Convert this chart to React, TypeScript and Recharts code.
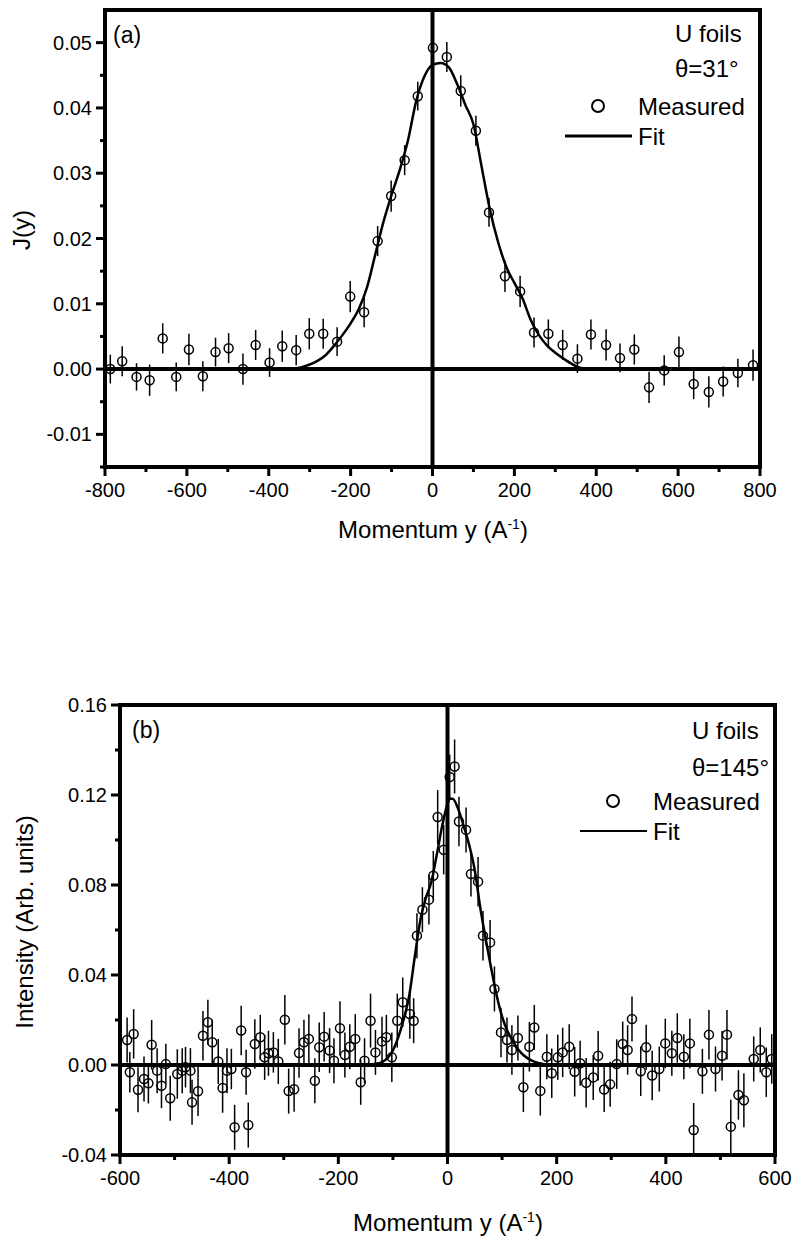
import React from 'react';
import {
  ComposedChart,
  XAxis,
  YAxis,
  Scatter,
  Line,
  ErrorBar,
  ReferenceLine,
  ReferenceArea,
} from 'recharts';

const FONT = '"Liberation Sans", Arial, Helvetica, sans-serif';

// ---------------- Panel (a) ----------------
const xMajorA = [-800, -600, -400, -200, 0, 200, 400, 600, 800];
const xMinorA = [-700, -500, -300, -100, 100, 300, 500, 700];
const yMajorA = [-0.01, 0, 0.01, 0.02, 0.03, 0.04, 0.05];
const yMinorA = [-0.015, -0.005, 0.005, 0.015, 0.025, 0.035, 0.045];

const measuredXA = [
  -787, -758, -723, -691, -659, -626, -595, -561, -530, -498,
  -463, -432, -398, -367, -333, -301, -267, -233, -201, -167,
  -134, -101, -68, -36, 1, 35, 69, 106, 138, 177,
  214, 248, 283, 318, 354, 387, 424, 458, 493, 529,
  566, 602, 638, 675, 710, 746, 783,
];
const measuredYA = [
  0.0, 0.0012, -0.0012, -0.0017, 0.0047, -0.0012, 0.003, -0.0011, 0.0026, 0.0032,
  0.0, 0.0037, 0.001, 0.0035, 0.0029, 0.0054, 0.0054, 0.0042, 0.0111, 0.0087,
  0.0196, 0.0265, 0.032, 0.0418, 0.0492, 0.0478, 0.0426, 0.0365, 0.024, 0.0142,
  0.0119, 0.0056, 0.0054, 0.0037, 0.0016, 0.0053, 0.0037, 0.0017, 0.003, -0.0028,
  -0.0002, 0.0026, -0.0023, -0.0035, -0.0019, -0.0006, 0.0006,
];
const errA = [
  0.0022, 0.0023, 0.0021, 0.0024, 0.0023, 0.0022, 0.0024, 0.0023, 0.0022, 0.0023,
  0.0024, 0.0023, 0.0022, 0.0024, 0.0023, 0.0024, 0.0023, 0.0022, 0.0024, 0.0023,
  0.0023, 0.0024, 0.0023, 0.0022, 0.0012, 0.0023, 0.0024, 0.0023, 0.0022, 0.0024,
  0.0024, 0.0023, 0.0022, 0.0023, 0.0022, 0.0023, 0.0024, 0.0022, 0.0023, 0.0024,
  0.0023, 0.0024, 0.0023, 0.0024, 0.0023, 0.0022, 0.0024,
];
const fitXA = [
  -360, -340, -320, -300, -280, -260, -240, -220, -200, -180, -160, -140, -120,
  -100, -80, -60, -40, -20, 0, 20, 40, 60, 80, 100, 120, 140, 160, 180, 200, 220,
  240, 260, 280, 300, 320, 340, 360, 380,
];
const fitYA = [
  0.0, 0.0001, 0.0003, 0.0007, 0.0013, 0.0022, 0.0036, 0.0052, 0.007, 0.0092, 0.0125,
  0.0175, 0.0225, 0.0267, 0.0305, 0.035, 0.041, 0.0448, 0.0466, 0.0469, 0.0462,
  0.0437, 0.0405, 0.0375, 0.031, 0.0245, 0.0195, 0.0157, 0.0132, 0.0108, 0.0075,
  0.0052, 0.0036, 0.0025, 0.0016, 0.0008, 0.0002, 0.0,
];

// ---------------- Panel (b) ----------------
const xMajorB = [-600, -400, -200, 0, 200, 400, 600];
const xMinorB = [-500, -300, -100, 100, 300, 500];
const yMajorB = [-0.04, 0, 0.04, 0.08, 0.12, 0.16];
const yMinorB = [-0.02, 0.02, 0.06, 0.1, 0.14];

const measuredXB = [
  -587, -582, -575, -567, -556, -548, -542, -532, -524, -516,
  -508, -495, -486, -480, -471, -468, -457, -448, -439, -431,
  -420, -412, -404, -396, -390, -378, -369, -365, -353, -343,
  -335, -328, -319, -310, -298, -291, -281, -272, -263, -254,
  -243, -235, -226, -216, -208, -197, -188, -179, -169, -159,
  -152, -141, -132, -120, -112, -102, -92, -82, -69, -62,
  -56, -46, -34, -26, -18, -7, 4, 13, 21, 34,
  43, 56, 65, 78, 86, 98, 109, 118, 129, 139,
  150, 159, 170, 182, 191, 202, 211, 223, 233, 243,
  254, 267, 276, 287, 298, 310, 321, 330, 338, 354,
  364, 375, 388, 399, 411, 421, 433, 444, 451, 467,
  479, 491, 503, 512, 519, 533, 543, 561, 573, 584,
  594,
];
const measuredYB = [
  0.0111, -0.0032, 0.0138, -0.011, -0.0062, -0.0081, 0.009, -0.0025, -0.0092, 0.0004,
  -0.0148, -0.004, -0.0025, -0.001, -0.0025, -0.0166, -0.0117, 0.013, 0.019, 0.0101,
  0.0016, -0.0102, -0.0025, -0.0018, -0.0277, 0.0153, -0.0032, -0.0267, 0.0093, 0.0123,
  0.0034, 0.0052, 0.0056, 0.0016, 0.0201, -0.0116, -0.0108, 0.0053, 0.0101, 0.0116,
  -0.007, 0.0079, 0.0126, 0.0064, 0.0019, 0.0163, 0.0044, 0.0081, 0.0116, -0.0077,
  0.0019, 0.0197, 0.0056, 0.0105, 0.0123, 0.0034, 0.0197, 0.0279, 0.0227, 0.0197,
  0.0575, 0.069, 0.0735, 0.0841, 0.1102, 0.0957, 0.128, 0.1327, 0.1082, 0.1045,
  0.0849, 0.0815, 0.0575, 0.0545, 0.0338, 0.0145, 0.0111, 0.0067, 0.012, -0.0099,
  0.0081, 0.0167, -0.0115, 0.0037, -0.0037, 0.0034, 0.0056, 0.0081, -0.003, 0.0008,
  -0.0079, -0.0055, 0.0041, -0.0109, -0.0086, 0.0004, 0.0093, 0.0067, 0.0204, -0.0028,
  0.0079, -0.0047, -0.0018, 0.0096, 0.0052, 0.012, 0.0037, 0.0096, -0.0289, -0.0028,
  0.0135, -0.0018, 0.0041, 0.0135, -0.0274, -0.0133, -0.0157, 0.0027, 0.0067, -0.0032,
  0.0027,
];
const errB = [
  0.01, 0.009, 0.011, 0.01, 0.01, 0.009, 0.011, 0.01, 0.01, 0.009,
  0.01, 0.011, 0.01, 0.009, 0.01, 0.01, 0.011, 0.011, 0.01, 0.01,
  0.01, 0.011, 0.01, 0.009, 0.01, 0.011, 0.01, 0.01, 0.011, 0.01,
  0.01, 0.01, 0.009, 0.01, 0.011, 0.01, 0.01, 0.011, 0.01, 0.011,
  0.01, 0.011, 0.011, 0.01, 0.01, 0.012, 0.01, 0.01, 0.011, 0.01,
  0.01, 0.012, 0.01, 0.011, 0.01, 0.011, 0.012, 0.011, 0.011, 0.01,
  0.01, 0.01, 0.011, 0.011, 0.012, 0.011, 0.01, 0.012, 0.011, 0.01,
  0.01, 0.011, 0.011, 0.01, 0.01, 0.011, 0.01, 0.011, 0.01, 0.011,
  0.011, 0.01, 0.011, 0.01, 0.011, 0.01, 0.011, 0.01, 0.011, 0.01,
  0.011, 0.01, 0.011, 0.01, 0.01, 0.011, 0.01, 0.011, 0.01, 0.011,
  0.01, 0.011, 0.01, 0.011, 0.01, 0.011, 0.01, 0.011, 0.012, 0.01,
  0.011, 0.01, 0.011, 0.011, 0.012, 0.011, 0.012, 0.01, 0.01, 0.011,
  0.011,
];
const fitXB = [
  -150, -135, -120, -110, -100, -90, -80, -70, -60, -50, -40, -30, -20, -10, 0, 5,
  10, 20, 30, 40, 50, 60, 70, 80, 90, 100, 110, 120, 130, 140, 150, 160, 175, 190,
];
const fitYB = [
  0.0, 0.0004, 0.0013, 0.003, 0.0065, 0.0125, 0.0205, 0.031, 0.048, 0.064, 0.074,
  0.081, 0.093, 0.106, 0.116, 0.1185, 0.1183, 0.1135, 0.106, 0.0975, 0.0865, 0.07,
  0.056, 0.043, 0.031, 0.0215, 0.015, 0.0105, 0.0068, 0.0042, 0.0025, 0.0014,
  0.0005, 0.0,
];

// ---------------- generic panel ----------------
const near = (arr: number[], v: number) => arr.some((m) => Math.abs(m - v) < 1e-9);

function makeXTick(majors: number[]) {
  return (props: any) => {
    const { x, y, payload } = props;
    const v = payload.value;
    const major = near(majors, v);
    return (
      <g>
        <line x1={x} y1={y} x2={x} y2={y + (major ? 9 : 5)} stroke="#000" strokeWidth={3} />
        {major && (
          <text x={x} y={y + 30} textAnchor="middle" fontFamily={FONT} fontSize={20} fill="#000">
            {String(v)}
          </text>
        )}
      </g>
    );
  };
}

function makeYTick(majors: number[]) {
  return (props: any) => {
    const { x, y, payload } = props;
    const v = payload.value;
    const major = near(majors, v);
    return (
      <g>
        <line x1={x - (major ? 9 : 5)} y1={y} x2={x} y2={y} stroke="#000" strokeWidth={3} />
        {major && (
          <text x={x - 13} y={y + 7} textAnchor="end" fontFamily={FONT} fontSize={20} fill="#000">
            {v.toFixed(2)}
          </text>
        )}
      </g>
    );
  };
}

const Circle = (props: any) => {
  const { cx, cy } = props;
  if (cx == null || cy == null) return <g />;
  return <circle cx={cx} cy={cy} r={4.5} fill="none" stroke="#000" strokeWidth={1.5} />;
};

type PanelProps = {
  width: number;
  height: number;
  margin: { top: number; right: number; bottom: number; left: number };
  yAxisWidth: number;
  xAxisHeight: number;
  xDomain: [number, number];
  yDomain: [number, number];
  xMajor: number[];
  xMinor: number[];
  yMajor: number[];
  yMinor: number[];
  mx: number[];
  my: number[];
  me: number[];
  fx: number[];
  fy: number[];
  fitWidth: number;
};

function Panel(p: PanelProps) {
  const measured = p.mx.map((x, i) => ({ x, y: p.my[i], err: p.me[i] }));
  const fit = p.fx.map((x, i) => ({ x, y: p.fy[i] }));
  return (
    <ComposedChart width={p.width} height={p.height} margin={p.margin}>
      <XAxis
        type="number"
        dataKey="x"
        domain={p.xDomain}
        ticks={[...p.xMajor, ...p.xMinor]}
        interval={0}
        tickSize={0}
        tickMargin={0}
        tickLine={false}
        axisLine={false}
        tick={makeXTick(p.xMajor)}
        height={p.xAxisHeight}
        allowDataOverflow
      />
      <YAxis
        type="number"
        domain={p.yDomain}
        ticks={[...p.yMajor, ...p.yMinor]}
        interval={0}
        tickSize={0}
        tickMargin={0}
        tickLine={false}
        axisLine={false}
        tick={makeYTick(p.yMajor)}
        width={p.yAxisWidth}
        allowDataOverflow
      />
      <ReferenceArea
        x1={p.xDomain[0]}
        x2={p.xDomain[1]}
        y1={p.yDomain[0]}
        y2={p.yDomain[1]}
        fill="none"
        fillOpacity={0}
        stroke="#000"
        strokeWidth={4}
        ifOverflow="visible"
      />
      <ReferenceLine y={0} stroke="#000" strokeWidth={4} ifOverflow="visible" />
      <ReferenceLine x={0} stroke="#000" strokeWidth={4} ifOverflow="visible" />
      <Line
        data={fit}
        dataKey="y"
        type="monotone"
        dot={false}
        activeDot={false}
        stroke="#000"
        strokeWidth={p.fitWidth}
        isAnimationActive={false}
      />
      <Scatter data={measured} dataKey="y" shape={Circle} isAnimationActive={false}>
        <ErrorBar dataKey="err" direction="y" width={0} stroke="#000" strokeWidth={1.5} isAnimationActive={false} />
      </Scatter>
    </ComposedChart>
  );
}

export default function App() {
  return (
    <div
      style={{
        position: 'absolute',
        left: 0,
        top: 0,
        width: 796,
        height: 1241,
        background: '#fff',
        overflow: 'hidden',
      }}
    >
      <div style={{ position: 'absolute', left: 0, top: 0 }}>
        <Panel
          width={796}
          height={560}
          margin={{ top: 10, right: 36, bottom: 0, left: 0 }}
          yAxisWidth={105}
          xAxisHeight={93}
          xDomain={[-800, 800]}
          yDomain={[-0.015, 0.055]}
          xMajor={xMajorA}
          xMinor={xMinorA}
          yMajor={yMajorA}
          yMinor={yMinorA}
          mx={measuredXA}
          my={measuredYA}
          me={errA}
          fx={fitXA}
          fy={fitYA}
          fitWidth={2.5}
        />
      </div>
      <div style={{ position: 'absolute', left: 0, top: 690 }}>
        <Panel
          width={796}
          height={551}
          margin={{ top: 15, right: 21, bottom: 0, left: 0 }}
          yAxisWidth={120}
          xAxisHeight={86}
          xDomain={[-600, 600]}
          yDomain={[-0.04, 0.16]}
          xMajor={xMajorB}
          xMinor={xMinorB}
          yMajor={yMajorB}
          yMinor={yMinorB}
          mx={measuredXB}
          my={measuredYB}
          me={errB}
          fx={fitXB}
          fy={fitYB}
          fitWidth={2.5}
        />
      </div>
      <svg
        width={796}
        height={1241}
        style={{ position: 'absolute', left: 0, top: 0, pointerEvents: 'none' }}
        fontFamily={FONT}
        fill="#000"
      >
        {/* Panel (a) annotations */}
        <text x={113} y={43} fontSize={23}>(a)</text>
        <text x={675} y={42} fontSize={24}>U foils</text>
        <text x={675} y={77} fontSize={24}>θ=31°</text>
        <circle cx={598} cy={106} r={6} fill="none" stroke="#000" strokeWidth={2} />
        <text x={638} y={115} fontSize={24}>Measured</text>
        <line x1={565} y1={136} x2={632} y2={136} stroke="#000" strokeWidth={3} />
        <text x={638} y={145} fontSize={24}>Fit</text>
        <text x={433} y={538} fontSize={24} textAnchor="middle">
          Momentum y (A<tspan dy={-9} fontSize={14}>-1</tspan>
          <tspan dy={9}>)</tspan>
        </text>
        <text x={38} y={238} fontSize={24} textAnchor="middle" transform="rotate(-90, 30, 238)">
          J(y)
        </text>

        {/* Panel (b) annotations */}
        <text x={132} y={738} fontSize={23}>(b)</text>
        <text x={692} y={739} fontSize={24}>U foils</text>
        <text x={692} y={776} fontSize={24}>θ=145°</text>
        <circle cx={613} cy={801} r={6} fill="none" stroke="#000" strokeWidth={2} />
        <text x={653} y={810} fontSize={24}>Measured</text>
        <line x1={580} y1={831} x2={647} y2={831} stroke="#000" strokeWidth={2} />
        <text x={653} y={840} fontSize={24}>Fit</text>
        <text x={448} y={1231} fontSize={24} textAnchor="middle">
          Momentum y (A<tspan dy={-9} fontSize={14}>-1</tspan>
          <tspan dy={9}>)</tspan>
        </text>
        <text x={41} y={930} fontSize={24} textAnchor="middle" transform="rotate(-90, 33, 930)">
          Intensity (Arb. units)
        </text>
      </svg>
    </div>
  );
}
